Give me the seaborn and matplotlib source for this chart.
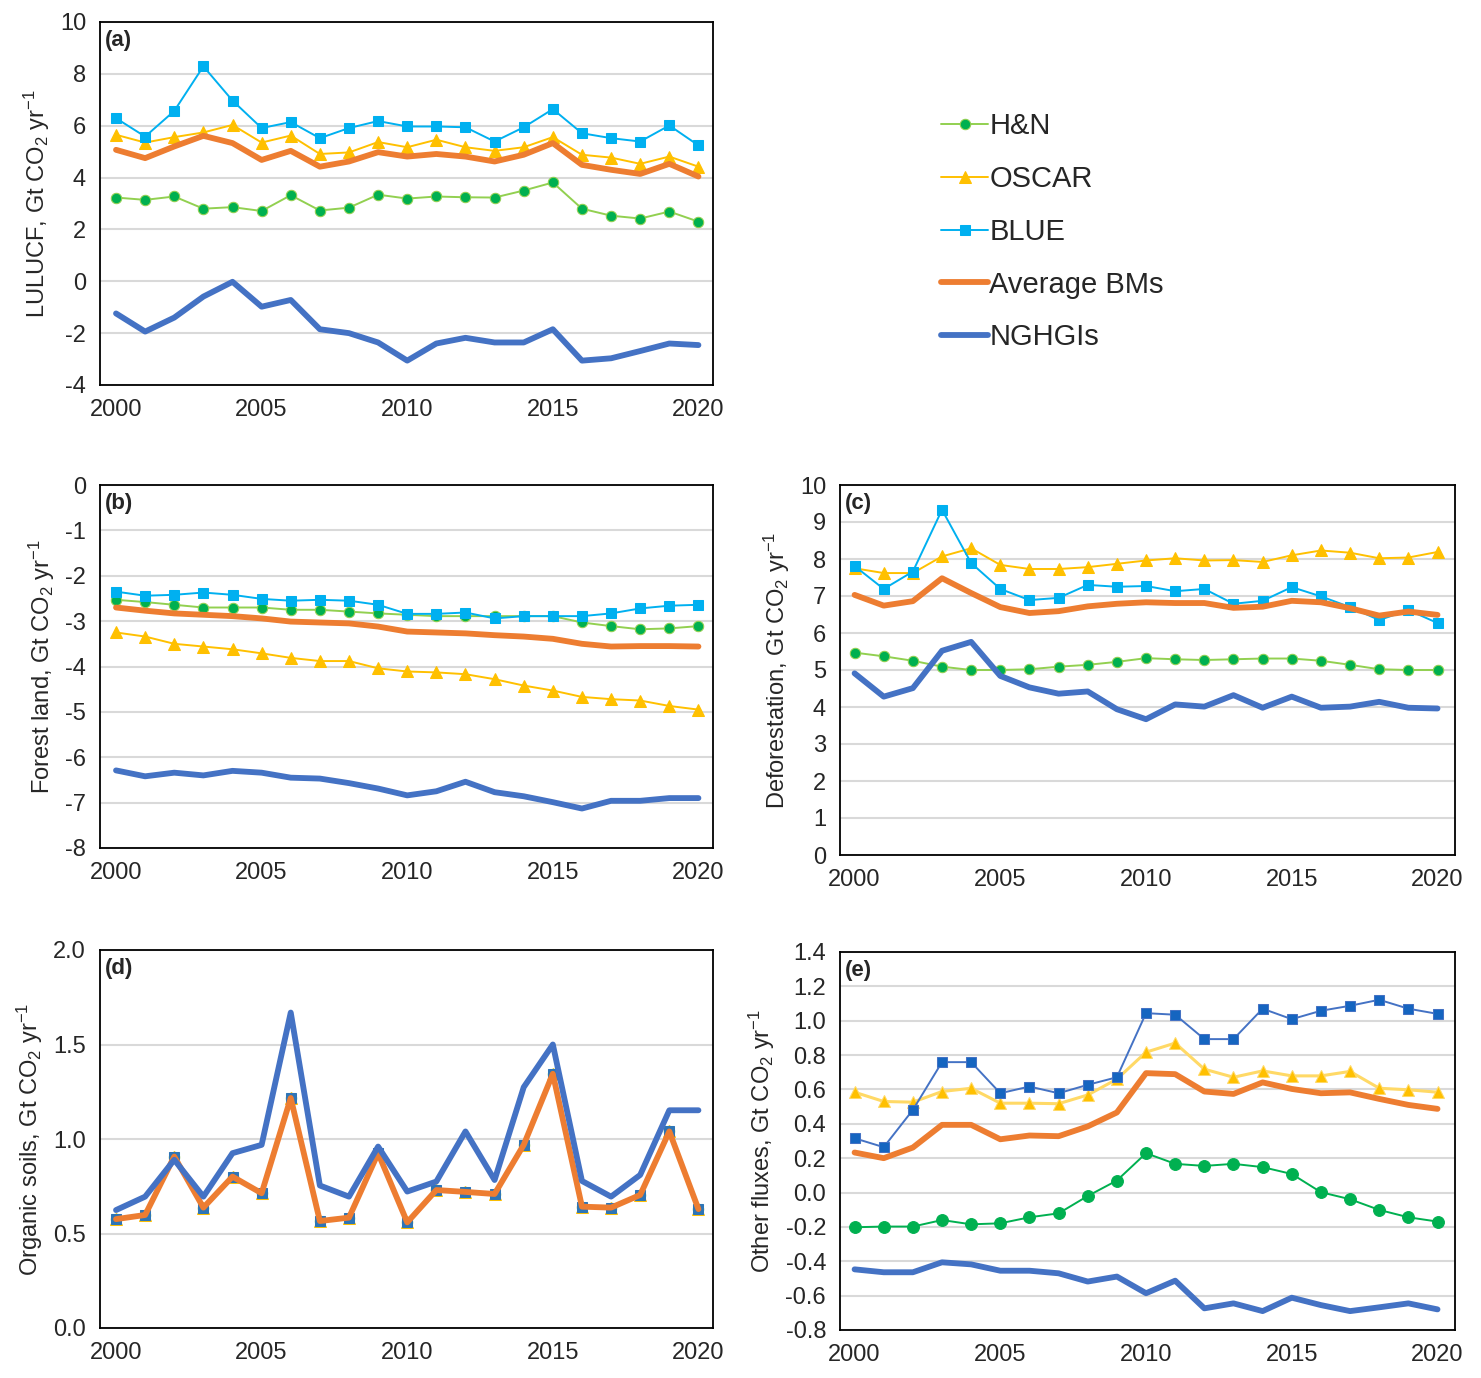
import matplotlib
matplotlib.use("Agg")
import matplotlib.pyplot as plt
from matplotlib.ticker import MultipleLocator, FormatStrFormatter
import seaborn as sns
import pandas as pd

years = list(range(2000, 2021))

# (a) LULUCF
a_hn = [3.23, 3.14, 3.27, 2.80, 2.86, 2.71, 3.32, 2.73, 2.84, 3.34, 3.19,
        3.27, 3.24, 3.23, 3.50, 3.81, 2.80, 2.53, 2.42, 2.69, 2.30]
a_oscar = [5.65, 5.35, 5.56, 5.74, 6.03, 5.35, 5.62, 4.91, 4.97, 5.37, 5.17,
           5.46, 5.17, 5.03, 5.17, 5.56, 4.88, 4.77, 4.53, 4.81, 4.42]
a_blue = [6.29, 5.58, 6.57, 8.29, 6.97, 5.91, 6.14, 5.52, 5.91, 6.18, 5.97,
          5.97, 5.94, 5.39, 5.94, 6.64, 5.71, 5.52, 5.39, 6.01, 5.24]
a_avg = [5.07, 4.75, 5.20, 5.61, 5.33, 4.68, 5.03, 4.42, 4.62, 4.98, 4.81,
         4.91, 4.81, 4.62, 4.88, 5.33, 4.49, 4.30, 4.14, 4.53, 4.04]
a_nghgi = [-1.24, -1.94, -1.40, -0.59, -0.02, -0.98, -0.72, -1.85, -2.00, -2.36, -3.06,
           -2.40, -2.18, -2.36, -2.36, -1.85, -3.06, -2.97, -2.69, -2.40, -2.46]

# (b) Forest land
b_hn = [-2.53, -2.58, -2.64, -2.70, -2.70, -2.70, -2.75, -2.75, -2.79, -2.83, -2.86,
        -2.89, -2.89, -2.89, -2.89, -2.89, -3.03, -3.11, -3.18, -3.16, -3.11]
b_oscar = [-3.25, -3.34, -3.50, -3.56, -3.62, -3.71, -3.81, -3.88, -3.88, -4.04, -4.11,
           -4.13, -4.17, -4.28, -4.42, -4.53, -4.67, -4.72, -4.75, -4.87, -4.95]
b_blue = [-2.35, -2.44, -2.42, -2.37, -2.42, -2.51, -2.55, -2.53, -2.55, -2.64, -2.84,
          -2.84, -2.81, -2.94, -2.89, -2.89, -2.89, -2.83, -2.72, -2.66, -2.64]
b_avg = [-2.70, -2.77, -2.83, -2.86, -2.89, -2.94, -3.01, -3.03, -3.05, -3.12, -3.23,
         -3.25, -3.27, -3.31, -3.34, -3.39, -3.50, -3.56, -3.55, -3.55, -3.56]
b_nghgi = [-6.29, -6.42, -6.34, -6.40, -6.30, -6.34, -6.45, -6.47, -6.57, -6.69, -6.84,
           -6.75, -6.54, -6.77, -6.86, -6.99, -7.13, -6.96, -6.96, -6.90, -6.90]

# (c) Deforestation
c_hn = [5.47, 5.37, 5.25, 5.09, 5.00, 5.00, 5.02, 5.09, 5.14, 5.22, 5.32,
        5.29, 5.27, 5.29, 5.31, 5.31, 5.25, 5.14, 5.02, 5.00, 5.00]
c_oscar = [7.75, 7.62, 7.62, 8.07, 8.29, 7.84, 7.73, 7.73, 7.78, 7.87, 7.96,
           8.02, 7.96, 7.97, 7.92, 8.10, 8.23, 8.17, 8.02, 8.04, 8.19]
c_blue = [7.81, 7.19, 7.66, 9.33, 7.89, 7.19, 6.89, 6.95, 7.30, 7.25, 7.27,
          7.13, 7.19, 6.79, 6.87, 7.24, 6.99, 6.70, 6.35, 6.62, 6.27]
c_avg = [7.03, 6.74, 6.86, 7.48, 7.08, 6.70, 6.54, 6.59, 6.72, 6.79, 6.83,
         6.81, 6.81, 6.68, 6.71, 6.87, 6.83, 6.67, 6.47, 6.58, 6.49]
c_nghgi = [4.91, 4.28, 4.51, 5.52, 5.76, 4.84, 4.53, 4.36, 4.42, 3.94, 3.67,
           4.07, 4.01, 4.32, 3.98, 4.28, 3.98, 4.01, 4.14, 3.98, 3.96]

# (d) Organic soils (the three bookkeeping models coincide)
d_bm = [0.576, 0.598, 0.907, 0.637, 0.801, 0.713, 1.217, 0.566, 0.584, 0.925, 0.559,
        0.730, 0.720, 0.709, 0.969, 1.345, 0.642, 0.637, 0.704, 1.040, 0.629]
d_nghgi = [0.624, 0.695, 0.890, 0.695, 0.925, 0.969, 1.669, 0.754, 0.695, 0.960, 0.722,
           0.775, 1.040, 0.783, 1.274, 1.500, 0.778, 0.695, 0.810, 1.152, 1.152]

# (e) Other fluxes
e_hn = [-0.202, -0.198, -0.198, -0.160, -0.185, -0.179, -0.144, -0.121, -0.020, 0.070, 0.229,
        0.167, 0.155, 0.167, 0.148, 0.108, 0.002, -0.039, -0.101, -0.144, -0.169]
e_oscar = [0.584, 0.530, 0.526, 0.588, 0.607, 0.520, 0.520, 0.517, 0.568, 0.660, 0.817,
           0.870, 0.718, 0.671, 0.708, 0.679, 0.679, 0.705, 0.607, 0.598, 0.584]
e_blue = [0.316, 0.264, 0.481, 0.759, 0.759, 0.578, 0.617, 0.578, 0.627, 0.671, 1.044,
          1.035, 0.893, 0.893, 1.070, 1.009, 1.058, 1.087, 1.122, 1.070, 1.040]
e_avg = [0.233, 0.200, 0.262, 0.394, 0.394, 0.310, 0.332, 0.328, 0.385, 0.466, 0.695,
         0.689, 0.588, 0.574, 0.641, 0.603, 0.578, 0.583, 0.545, 0.510, 0.487]
e_nghgi = [-0.447, -0.464, -0.464, -0.406, -0.418, -0.455, -0.455, -0.470, -0.518, -0.489, -0.586,
           -0.513, -0.674, -0.645, -0.690, -0.612, -0.655, -0.690, -0.668, -0.645, -0.680]

labels = ["H&N", "OSCAR", "BLUE", "Average BMs", "NGHGIs"]

style_std = {
    "H&N": dict(color="#92D050", marker="o", markerfacecolor="#00B050",
                markeredgecolor="#92D050", linewidth=1.4, markersize=7.5),
    "OSCAR": dict(color="#FFC000", marker="^", markerfacecolor="#FFC000",
                  markeredgecolor="#FFC000", linewidth=1.4, markersize=8),
    "BLUE": dict(color="#00B0F0", marker="s", markerfacecolor="#00B0F0",
                 markeredgecolor="#00B0F0", linewidth=1.4, markersize=7),
    "Average BMs": dict(color="#ED7D31", marker=None, linewidth=4.2),
    "NGHGIs": dict(color="#4472C4", marker=None, linewidth=4.2),
}
style_d = dict(style_std)
style_d["BLUE"] = dict(color="#2E75B6", marker="s", markerfacecolor="#2E75B6",
                       markeredgecolor="#2E75B6", linewidth=1.4, markersize=7)
style_e = dict(style_std)
style_e["H&N"] = dict(color="#00B050", marker="o", markerfacecolor="#00B050",
                      markeredgecolor="#00B050", linewidth=1.4, markersize=8.5)
style_e["OSCAR"] = dict(color="#FFD966", marker="^", markerfacecolor="#FFC000",
                        markeredgecolor="#FFD966", linewidth=2.2, markersize=9)
style_e["BLUE"] = dict(color="#4472C4", marker="s", markerfacecolor="#1565C0",
                       markeredgecolor="#4472C4", linewidth=1.4, markersize=7.5)

sns.set_style("white")
plt.rcParams["font.family"] = ["Liberation Sans", "DejaVu Sans"]
plt.rcParams["mathtext.default"] = "regular"
plt.rcParams["axes.unicode_minus"] = False

W, H = 1481, 1378
fig = plt.figure(figsize=(W / 100, H / 100), dpi=100)


def make_ax(left, top, right, bottom):
    return fig.add_axes([left / W, 1 - bottom / H, (right - left) / W, (bottom - top) / H])


def draw(ax, series, styles, tag, ylabel, ylim, ystep, fmt=None, xlim=(1999.45, 2020.5)):
    for name, vals in zip(labels, series):
        df = pd.DataFrame({"year": years, "value": vals})
        sns.lineplot(data=df, x="year", y="value", ax=ax, label=name, legend=False,
                     **styles[name])
    ax.set_xlim(*xlim)
    ax.set_ylim(*ylim)
    ax.xaxis.set_major_locator(MultipleLocator(5))
    ax.yaxis.set_major_locator(MultipleLocator(ystep))
    if fmt:
        ax.yaxis.set_major_formatter(FormatStrFormatter(fmt))
    ax.grid(axis="y", color="#D9D9D9", linewidth=1.5)
    ax.set_axisbelow(True)
    for sp in ax.spines.values():
        sp.set_color("black")
        sp.set_linewidth(1.3)
    ax.tick_params(axis="both", length=0, labelsize=17, pad=10)
    ax.set_xlabel("")
    ax.set_ylabel(ylabel, fontsize=17, labelpad=6)
    ax.text(0.008, 0.978, tag, transform=ax.transAxes, fontsize=16,
            fontweight="bold", va="top", ha="left")


ax_a = make_ax(100, 22, 713, 385)
draw(ax_a, [a_hn, a_oscar, a_blue, a_avg, a_nghgi], style_std, "(a)",
     "LULUCF, Gt CO$_2$ yr$^{-1}$", (-4, 10), 2)

ax_b = make_ax(100, 485, 713, 848)
draw(ax_b, [b_hn, b_oscar, b_blue, b_avg, b_nghgi], style_std, "(b)",
     "Forest land, Gt CO$_2$ yr$^{-1}$", (-8, 0), 1)

ax_c = make_ax(840, 485, 1455, 855)
draw(ax_c, [c_hn, c_oscar, c_blue, c_avg, c_nghgi], style_std, "(c)",
     "Deforestation, Gt CO$_2$ yr$^{-1}$", (0, 10), 1, xlim=(1999.5, 2020.6))

ax_d = make_ax(100, 950, 713, 1328)
draw(ax_d, [d_bm, d_bm, d_bm, d_bm, d_nghgi], style_d, "(d)",
     "Organic soils, Gt CO$_2$ yr$^{-1}$", (0, 2), 0.5, fmt="%.1f")

ax_e = make_ax(840, 952, 1455, 1330)
draw(ax_e, [e_hn, e_oscar, e_blue, e_avg, e_nghgi], style_e, "(e)",
     "Other fluxes, Gt CO$_2$ yr$^{-1}$", (-0.8, 1.4), 0.2, fmt="%.1f",
     xlim=(1999.5, 2020.6))

handles, lbls = ax_a.get_legend_handles_labels()
fig.legend(handles, lbls, loc="upper left", bbox_to_anchor=(915 / W, 1 - 86 / H),
           frameon=False, fontsize=21, labelspacing=0.85, handlelength=1.6,
           handletextpad=0.05)

fig.savefig("out.png", dpi=100)
